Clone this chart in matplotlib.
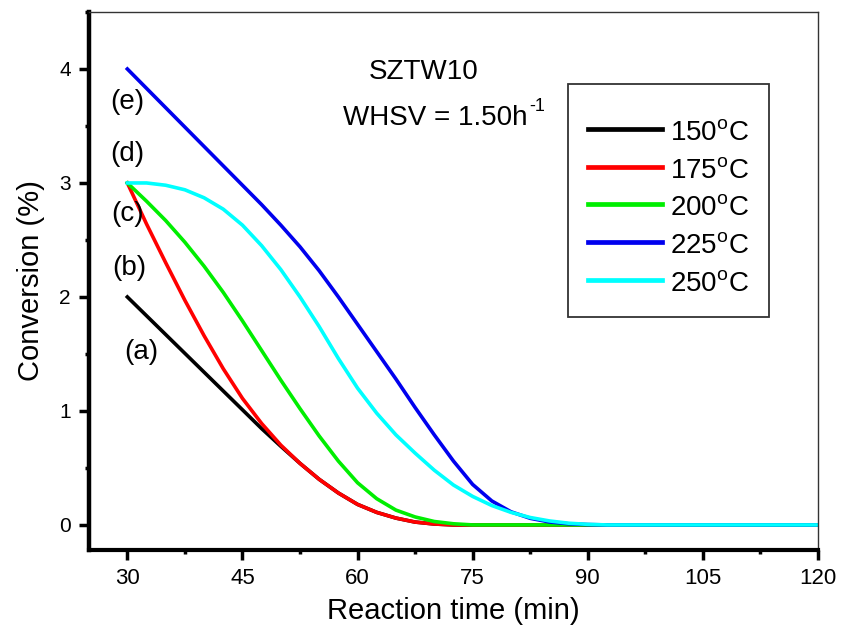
import matplotlib
matplotlib.use("Agg")
import matplotlib.pyplot as plt
from matplotlib.ticker import MultipleLocator

plt.rcParams['font.family'] = ['Liberation Sans', 'DejaVu Sans']
plt.rcParams['mathtext.fontset'] = 'custom'
plt.rcParams['mathtext.rm'] = 'Liberation Sans'
plt.rcParams['mathtext.it'] = 'Liberation Sans'

# --- dados ---
tempo = [30, 32.5, 35, 37.5, 40, 42.5, 45, 47.5, 50, 52.5, 55, 57.5, 60, 62.5,
         65, 67.5, 70, 72.5, 75, 77.5, 80, 82.5, 85, 87.5, 90, 92.5, 95, 120]

c150 = [2.00, 1.835, 1.67, 1.505, 1.34, 1.175, 1.01, 0.845, 0.69, 0.54, 0.40, 0.28, 0.18, 0.11,
        0.06, 0.025, 0.008, 0.0, 0.0, 0.0, 0.0, 0.0, 0.0, 0.0, 0.0, 0.0, 0.0, 0.0]
c175 = [3.00, 2.64, 2.30, 1.97, 1.66, 1.37, 1.11, 0.89, 0.70, 0.54, 0.40, 0.28, 0.18, 0.11,
        0.06, 0.025, 0.008, 0.0, 0.0, 0.0, 0.0, 0.0, 0.0, 0.0, 0.0, 0.0, 0.0, 0.0]
c200 = [3.00, 2.84, 2.67, 2.48, 2.27, 2.04, 1.79, 1.53, 1.27, 1.02, 0.78, 0.56, 0.37, 0.23,
        0.13, 0.07, 0.03, 0.01, 0.0, 0.0, 0.0, 0.0, 0.0, 0.0, 0.0, 0.0, 0.0, 0.0]
c225 = [4.00, 3.83, 3.66, 3.49, 3.32, 3.15, 2.98, 2.81, 2.63, 2.44, 2.23, 2.00, 1.76, 1.52,
        1.28, 1.03, 0.79, 0.56, 0.355, 0.21, 0.115, 0.058, 0.026, 0.01, 0.003, 0.0, 0.0, 0.0]
c250 = [3.00, 3.00, 2.98, 2.94, 2.87, 2.77, 2.63, 2.45, 2.24, 2.00, 1.74, 1.46, 1.20, 0.98,
        0.79, 0.63, 0.48, 0.35, 0.25, 0.17, 0.11, 0.065, 0.035, 0.015, 0.005, 0.0, 0.0, 0.0]

series = [c150, c175, c200, c225, c250]
rotulos = [r'150$^{\rm o}$C', r'175$^{\rm o}$C', r'200$^{\rm o}$C',
           r'225$^{\rm o}$C', r'250$^{\rm o}$C']
cores = ['#000000', '#ff0000', '#00ee00', '#0000ee', '#00ffff']
letras = ['(a)', '(b)', '(c)', '(d)', '(e)']
pos_letras = [(31.8, 1.52), (30.3, 2.25), (30, 2.73), (30, 3.25), (30, 3.71)]

fig = plt.figure(figsize=(8.45, 6.34), dpi=100)
ax = fig.add_axes([0.1053, 0.1325, 0.8627, 0.8486])

for y, lab, cor in zip(series, rotulos, cores):
    ax.plot(tempo, y, color=cor, lw=2.6, label=lab, solid_joinstyle='round')

for txt, (tx, ty) in zip(letras, pos_letras):
    ax.text(tx, ty, txt, fontsize=20, ha='center', va='center')

ax.text(68.6, 3.91, 'SZTW10', fontsize=20, ha='center', va='baseline')
ax.text(82.2, 3.51, 'WHSV = 1.50h', fontsize=20, ha='right', va='baseline')
ax.annotate('-1', xy=(82.2, 3.51), xytext=(1, 10), textcoords='offset points',
            fontsize=13, ha='left', va='baseline')

ax.set_xlim(25, 120)
ax.set_ylim(-0.22, 4.5)
ax.xaxis.set_major_locator(MultipleLocator(15))
ax.xaxis.set_minor_locator(MultipleLocator(7.5))
ax.yaxis.set_major_locator(MultipleLocator(1))
ax.yaxis.set_minor_locator(MultipleLocator(0.5))

ax.set_xlabel('Reaction time (min)', fontsize=21, labelpad=6)
ax.set_ylabel('Conversion (%)', fontsize=21, labelpad=10)
ax.tick_params(which='major', direction='out', length=7, width=2.5, pad=6)
ax.tick_params(axis='x', which='major', labelsize=16)
ax.tick_params(axis='y', which='major', labelsize=15)
ax.tick_params(which='minor', direction='out', length=3, width=2.5)
ax.tick_params(top=False, right=False)

ax.spines['left'].set_linewidth(3.2)
ax.spines['bottom'].set_linewidth(3.0)
ax.spines['top'].set_linewidth(1.0)
ax.spines['top'].set_color('#333333')
ax.spines['right'].set_linewidth(1.0)
ax.spines['right'].set_color('#333333')

leg = ax.legend(loc='upper left', bbox_to_anchor=(0.657, 0.8656), fontsize=20,
                frameon=True, fancybox=False, edgecolor='black', handlelength=2.66,
                handleheight=1.0, handletextpad=0.3, labelspacing=0.35,
                borderpad=0.72, borderaxespad=0, title=' ', title_fontsize=3)
leg.get_frame().set_linewidth(1.3)
for l in leg.get_lines():
    l.set_linewidth(3.4)

plt.savefig('out.png', dpi=100)
